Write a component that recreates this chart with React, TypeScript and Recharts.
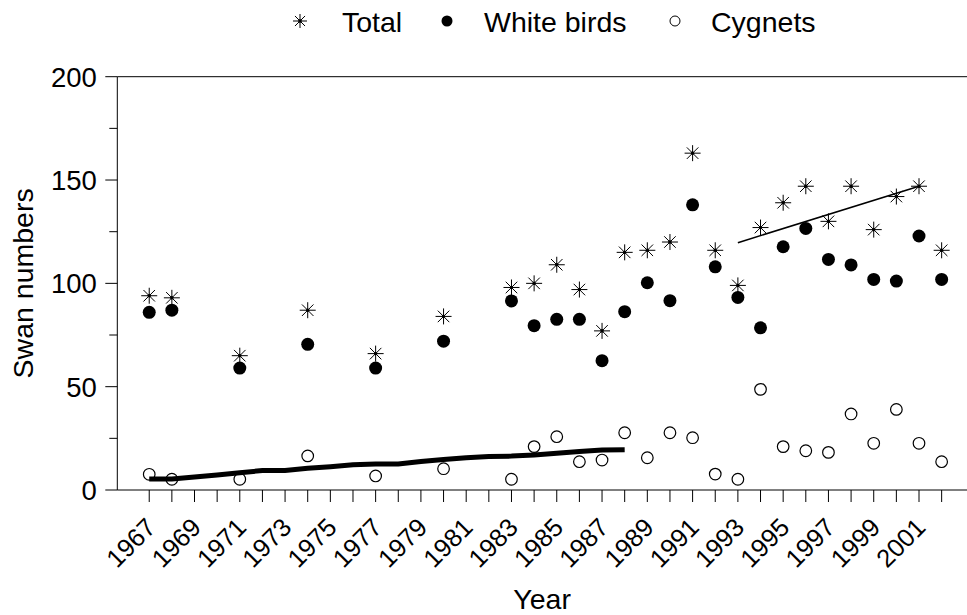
import {
  ComposedChart,
  Scatter,
  Line,
  XAxis,
  YAxis,
  ReferenceLine,
  Legend,
} from "recharts";

const FONT = '"Liberation Sans", Arial, sans-serif';

// survey years (gaps in the early years)
const years = [
  1967, 1968, 1971, 1974, 1977, 1980, 1983, 1984, 1985, 1986, 1987, 1988, 1989,
  1990, 1991, 1992, 1993, 1994, 1995, 1996, 1997, 1998, 1999, 2000, 2001, 2002,
];
const total = [
  94, 93, 65, 87, 66, 84, 98, 100, 109, 97, 77, 115, 116, 120, 163, 116, 99,
  127, 139, 147, 130, 147, 126, 142, 147, 116,
];
const whiteBirds = [
  86, 87, 59, 70.5, 59, 72, 91.5, 79.5, 82.6, 82.6, 62.6, 86.3, 100.3, 91.6,
  138, 108, 93.2, 78.5, 117.7, 126.6, 111.6, 108.9, 101.9, 101.1, 122.9, 101.9,
];
const cygnets = [
  7.6, 5.2, 5.2, 16.5, 6.8, 10.3, 5.2, 21, 25.8, 13.7, 14.5, 27.7, 15.6, 27.7,
  25.3, 7.7, 5.2, 48.7, 21, 19, 18.2, 36.8, 22.6, 39, 22.6, 13.7,
];

// smoothed cygnet trend 1967-1988
const trendYears = [
  1967, 1968, 1969, 1970, 1971, 1972, 1973, 1974, 1975, 1976, 1977, 1978, 1979,
  1980, 1981, 1982, 1983, 1984, 1985, 1986, 1987, 1988,
];
const trendValues = [
  5.3, 5.3, 6.3, 7.3, 8.4, 9.4, 9.4, 10.5, 11.3, 12.2, 12.6, 12.6, 13.8, 14.8,
  15.6, 16.2, 16.4, 16.9, 17.8, 18.6, 19.4, 19.5,
];

// total trend 1993-2001
const fitYears = [1993, 2001];
const fitValues = [119.7, 147];

const xTicks = [
  1967, 1968, 1969, 1970, 1971, 1972, 1973, 1974, 1975, 1976, 1977, 1978, 1979,
  1980, 1981, 1982, 1983, 1984, 1985, 1986, 1987, 1988, 1989, 1990, 1991, 1992,
  1993, 1994, 1995, 1996, 1997, 1998, 1999, 2000, 2001, 2002,
];
const xLabels = [
  1967, 1969, 1971, 1973, 1975, 1977, 1979, 1981, 1983, 1985, 1987, 1989, 1991,
  1993, 1995, 1997, 1999, 2001,
];
const yTicks = [0, 25, 50, 75, 100, 125, 150, 175, 200];
const yLabels = [0, 50, 100, 150, 200];

const totalData = years.map((year, i) => ({ year, v: total[i] }));
const whiteData = years.map((year, i) => ({ year, v: whiteBirds[i] }));
const cygnetData = years.map((year, i) => ({ year, v: cygnets[i] }));
const trendData = trendYears.map((year, i) => ({ year, v: trendValues[i] }));
const fitData = fitYears.map((year, i) => ({ year, v: fitValues[i] }));

function Star({ cx, cy, s = 8 }: any) {
  const d = s * 0.72;
  return (
    <g stroke="#000" strokeWidth={1}>
      <line x1={cx} y1={cy - s} x2={cx} y2={cy + s} />
      <line x1={cx - s} y1={cy} x2={cx + s} y2={cy} />
      <line x1={cx - d} y1={cy - d} x2={cx + d} y2={cy + d} />
      <line x1={cx - d} y1={cy + d} x2={cx + d} y2={cy - d} />
      <circle cx={cx} cy={cy} r={1.3} fill="#000" />
    </g>
  );
}

function Dot({ cx, cy }: any) {
  return <circle cx={cx} cy={cy} r={6.5} fill="#000" />;
}

function OpenDot({ cx, cy }: any) {
  return <circle cx={cx} cy={cy} r={5.8} fill="none" stroke="#000" strokeWidth={1.2} />;
}

function XTick({ x, y, payload }: any) {
  const show = xLabels.includes(payload.value);
  const tx = x + 8;
  const ty = y + 39;
  return (
    <g>
      <line x1={x} y1={y} x2={x} y2={y + 12} stroke="#000" strokeWidth={1} />
      {show && (
        <text
          x={tx}
          y={ty}
          textAnchor="end"
          transform={`rotate(-45, ${tx}, ${ty})`}
          fontFamily={FONT}
          fontSize={25.5}
          fill="#000"
        >
          {payload.value}
        </text>
      )}
    </g>
  );
}

function YTick({ x, y, payload }: any) {
  const major = yLabels.includes(payload.value);
  return (
    <g>
      <line x1={x - (major ? 12 : 8)} y1={y} x2={x} y2={y} stroke="#000" strokeWidth={1} />
      {major && (
        <text
          x={x - 20.5}
          y={y}
          dy="0.36em"
          textAnchor="end"
          fontFamily={FONT}
          fontSize={27.5}
          fill="#000"
        >
          {payload.value}
        </text>
      )}
    </g>
  );
}

function XTitle({ viewBox }: any) {
  return (
    <text
      x={viewBox.x + viewBox.width / 2}
      y={viewBox.y + viewBox.height - 6}
      textAnchor="middle"
      fontFamily={FONT}
      fontSize={28.5}
      fill="#000"
    >
      Year
    </text>
  );
}

function YTitle({ viewBox }: any) {
  const tx = viewBox.x + 33;
  const ty = viewBox.y + viewBox.height / 2;
  return (
    <text
      x={tx}
      y={ty}
      textAnchor="middle"
      transform={`rotate(-90, ${tx}, ${ty})`}
      fontFamily={FONT}
      fontSize={28.5}
      fill="#000"
    >
      Swan numbers
    </text>
  );
}

function LegendBox() {
  return (
    <svg width={967} height={45} style={{ display: "block" }}>
      <Star cx={300} cy={21} s={7} />
      <text x={342} y={31.5} fontFamily={FONT} fontSize={28.5} fill="#000">
        Total
      </text>
      <circle cx={447} cy={21} r={5.5} fill="#000" />
      <text x={484} y={31.5} fontFamily={FONT} fontSize={28.5} fill="#000">
        White birds
      </text>
      <circle cx={675} cy={21} r={5} fill="none" stroke="#000" strokeWidth={1} />
      <text x={711} y={31.5} fontFamily={FONT} fontSize={28.5} fill="#000">
        Cygnets
      </text>
    </svg>
  );
}

export default function App() {
  return (
    <div
      style={{
        position: "absolute",
        left: 0,
        top: 0,
        width: 967,
        height: 615,
        background: "#fff",
        fontFamily: FONT,
      }}
    >
      <ComposedChart
        width={967}
        height={615}
        margin={{ top: 76.7, right: 0, bottom: 0, left: 0 }}
      >
        <Legend
          verticalAlign="middle"
          align="center"
          layout="horizontal"
          wrapperStyle={{ top: 0, left: 0, width: 967, height: 45 }}
          content={() => <LegendBox />}
        />
        <XAxis
          dataKey="year"
          type="number"
          domain={[1965.59, 2003.12]}
          allowDataOverflow
          ticks={xTicks}
          interval={0}
          height={125}
          tickSize={0}
          tickMargin={0}
          tickLine={false}
          axisLine={{ stroke: "#000", strokeWidth: 1 }}
          tick={<XTick />}
          label={<XTitle />}
        />
        <YAxis
          type="number"
          domain={[0, 200]}
          allowDataOverflow
          ticks={yTicks}
          interval={0}
          width={117.3}
          tickSize={0}
          tickMargin={0}
          tickLine={false}
          axisLine={{ stroke: "#000", strokeWidth: 1 }}
          tick={<YTick />}
          label={<YTitle />}
        />
        <ReferenceLine y={200} stroke="#000" strokeWidth={1} />
        <Line
          data={trendData}
          dataKey="v"
          stroke="#000"
          strokeWidth={5}
          dot={false}
          activeDot={false}
          legendType="none"
          isAnimationActive={false}
        />
        <Line
          data={fitData}
          dataKey="v"
          stroke="#000"
          strokeWidth={1.6}
          dot={false}
          activeDot={false}
          legendType="none"
          isAnimationActive={false}
        />
        <Scatter
          name="Total"
          data={totalData}
          dataKey="v"
          shape={<Star />}
          isAnimationActive={false}
        />
        <Scatter
          name="White birds"
          data={whiteData}
          dataKey="v"
          shape={<Dot />}
          isAnimationActive={false}
        />
        <Scatter
          name="Cygnets"
          data={cygnetData}
          dataKey="v"
          shape={<OpenDot />}
          isAnimationActive={false}
        />
      </ComposedChart>
    </div>
  );
}
